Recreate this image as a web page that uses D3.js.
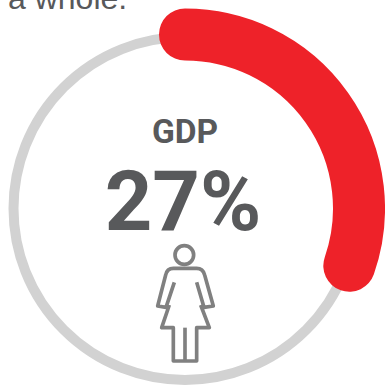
<!DOCTYPE html>
<html>
<head>
<meta charset="utf-8">
<script src="https://cdn.jsdelivr.net/npm/d3@7"></script>
<style>
html,body{margin:0;padding:0;background:#fff;overflow:hidden}
svg{display:block}
</style>
</head>
<body>
<svg id="chart" width="385" height="385"></svg>
<script>
// Gauge content
const metric = ["GDP"];
const shareValues = [27];
const gaugeDomain = [0, 89];
const captionLines = ["a whole."];

const svg = d3.select("#chart");
const cx = 185, cy = 208.5, trackRadius = 171.5, valueRadius = 174;

const angle = d3.scaleLinear().domain(gaugeDomain).range([0, 2 * Math.PI]);

// Caption tail cut by the top edge
svg.selectAll("text.caption").data(captionLines).join("text")
  .attr("class", "caption")
  .attr("x", 8).attr("y", 8.5)
  .attr("font-family", "Liberation Sans")
  .attr("font-size", 32)
  .attr("fill", "#58595b")
  .text(d => d);

// Track ring
svg.append("circle")
  .attr("cx", cx).attr("cy", cy).attr("r", trackRadius)
  .attr("fill", "none").attr("stroke", "#d2d2d2").attr("stroke-width", 10);

// Value arc with round ends
const arcPath = v => {
  const p = d3.path();
  p.arc(cx, cy, valueRadius, -Math.PI / 2, angle(v) - Math.PI / 2);
  return p.toString();
};
svg.selectAll("path.value").data(shareValues).join("path")
  .attr("class", "value")
  .attr("d", arcPath)
  .attr("fill", "none")
  .attr("stroke", "#ee2229")
  .attr("stroke-width", 52)
  .attr("stroke-linecap", "round");

// Centre labels
svg.append("text").data(metric)
  .attr("x", 185).attr("y", 142.7)
  .attr("text-anchor", "middle")
  .attr("font-family", "Roboto").attr("font-weight", 700)
  .attr("font-size", 33.5).attr("fill", "#58595b")
  .text(d => d);
svg.append("text").data(shareValues)
  .attr("x", 183).attr("y", 229.5)
  .attr("text-anchor", "middle")
  .attr("font-family", "Roboto").attr("font-weight", 700)
  .attr("font-size", 83).attr("fill", "#58595b")
  .text(d => d + "%");

// Figure pictogram, outlined
const icon = svg.append("g")
  .attr("transform", "translate(130,230) scale(0.3333)")
  .attr("fill", "none").attr("stroke", "#808080")
  .attr("stroke-width", 11).attr("stroke-linejoin", "round");
icon.append("circle").attr("cx", 163).attr("cy", 75).attr("r", 28);
icon.append("path").attr("d",
  "M133 157 L108 232 L83 228 L107 135 Q111 115 130 115 L200 115 Q219 115 224 135 L250 228 L222 232 L200 157");
icon.append("path").attr("d",
  "M118 225 L95 293 L130 293 L130 393 L200 393 L200 293 L238 293 L212 225");
icon.append("path").attr("d", "M165 293 L165 393");
</script>
</body>
</html>
